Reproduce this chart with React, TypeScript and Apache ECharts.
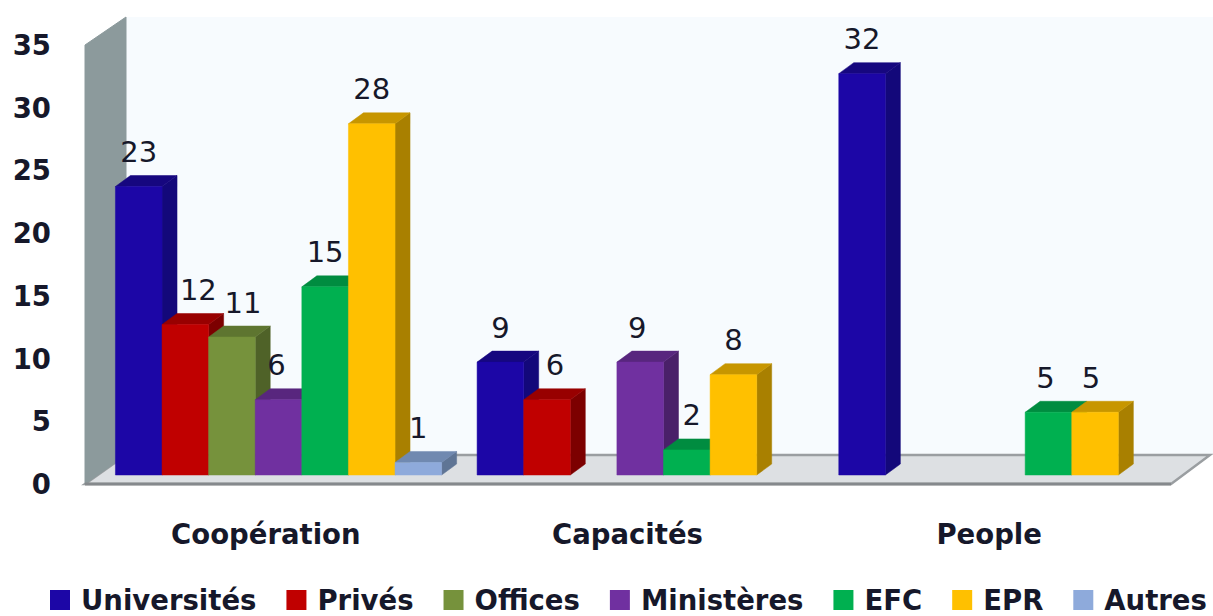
import React, { useEffect, useRef } from "react";
import * as echarts from "echarts";

const categories = ["Coopération", "Capacités", "People"];
const yTicks = { min: 0, max: 35, interval: 5 };

const universites = [23, 9, 32];
const prives = [12, 6, null];
const offices = [11, null, null];
const ministeres = [6, 9, null];
const efc = [15, 2, 5];
const epr = [28, 8, 5];
const autres = [1, null, null];

const seriesNames = ["Universités", "Privés", "Offices", "Ministères", "EFC", "EPR", "Autres"];
const seriesValues = [universites, prives, offices, ministeres, efc, epr, autres];
const frontColors = ["#1c06a6", "#c00000", "#76923c", "#7030a0", "#00b050", "#ffc000", "#8eaadb"];
const topColors = ["#16077f", "#980000", "#5e7530", "#58267e", "#008c40", "#c79600", "#7089b0"];
const sideColors = ["#13087a", "#7c0000", "#4f6228", "#4a2069", "#00733a", "#a98000", "#5f7595"];

const labelNudge: Record<string, number> = {
  "1|0": 13, "2|0": 11, "3|0": -2, "1|1": 8, "3|1": -3, "4|1": 5, "4|2": -3, "5|2": -4,
};

const FONT = "'DejaVu Sans', sans-serif";
const TEXT = "#16182a";
const BAR_RATIO = 46.6 / 361.67;
const PLANE_DX = 12.7;
const PLANE_DY = -9;
const DEPTH_DX = 15;
const DEPTH_DY = -11;

function makeRender(si: number) {
  return (params: any, api: any) => {
    const cat = api.value(0);
    const val = api.value(1);
    const top = api.coord([cat, val]);
    const base = api.coord([cat, 0]);
    const bw = api.size([1, 0])[0] * BAR_RATIO;
    const x0 = top[0] + PLANE_DX + (si - 3.5) * bw;
    const x1 = x0 + bw;
    const yT = top[1] + PLANE_DY;
    const yB = base[1] + PLANE_DY;
    const poly = (points: number[][], fill: string) => ({
      type: "polygon",
      shape: { points },
      style: { fill, stroke: fill, lineWidth: 0.5 },
    });
    return {
      type: "group",
      children: [
        poly([[x1, yT], [x1 + DEPTH_DX, yT + DEPTH_DY], [x1 + DEPTH_DX, yB + DEPTH_DY], [x1, yB]], sideColors[si]),
        poly([[x0, yT], [x0 + DEPTH_DX, yT + DEPTH_DY], [x1 + DEPTH_DX, yT + DEPTH_DY], [x1, yT]], topColors[si]),
        poly([[x0, yT], [x1, yT], [x1, yB], [x0, yB]], frontColors[si]),
        {
          type: "text",
          z2: 100,
          style: {
            text: String(val),
            x: (x0 + x1) / 2 + (labelNudge[si + "|" + cat] || 0),
            y: yT - 34.5,
            align: "center",
            verticalAlign: "middle",
            fontSize: 29,
            fontFamily: FONT,
            fill: TEXT,
          },
        },
      ],
    };
  };
}

export default function App() {
  const ref = useRef<HTMLDivElement>(null);
  useEffect(() => {
    const chart = echarts.init(ref.current!, undefined, { renderer: "svg" });
    chart.setOption({
      animation: false,
      backgroundColor: "#ffffff",
      grid: { left: 85, right: 43, top: 45, bottom: 132 },
      graphic: [
        { type: "rect", z: 0, shape: { x: 126, y: 17, width: 1087, height: 438 }, style: { fill: "#f7fbfe" } },
        { type: "polygon", z: 1, shape: { points: [[85, 484], [126, 455], [1210, 455], [1171, 484]] }, style: { fill: "#dde0e3", stroke: "#9a9ea1", lineWidth: 2.5 } },
        { type: "polygon", z: 1, shape: { points: [[85, 45], [126, 17], [126, 455], [85, 484]] }, style: { fill: "#8c9a9c", stroke: "#8c9a9c", lineWidth: 1 } },
        { type: "line", z: 1, shape: { x1: 85, y1: 484, x2: 1171, y2: 484 }, style: { stroke: "#85898c", lineWidth: 3 } },
      ],
      xAxis: {
        type: "category",
        data: categories,
        axisLine: { show: false },
        axisTick: { show: false },
        axisLabel: { margin: 36, fontSize: 27.5, fontWeight: "bold", fontFamily: FONT, color: TEXT },
      },
      yAxis: {
        type: "value",
        min: yTicks.min,
        max: yTicks.max,
        interval: yTicks.interval,
        axisLine: { show: false },
        axisTick: { show: false },
        splitLine: { show: false },
        axisLabel: { margin: 34, fontSize: 27.5, fontWeight: "bold", fontFamily: FONT, color: TEXT },
      },
      legend: {
        left: 50,
        top: 586,
        width: 1163,
        padding: 0,
        icon: "rect",
        itemWidth: 20,
        itemHeight: 20,
        itemGap: 30,
        selectedMode: false,
        data: seriesNames,
        textStyle: { fontSize: 27.5, fontWeight: "bold", fontFamily: FONT, color: TEXT, padding: [0, 0, 0, 6] },
      },
      series: seriesNames.map((name, si) => ({
        type: "custom",
        name,
        renderItem: makeRender(si),
        itemStyle: { color: frontColors[si] },
        encode: { x: 0, y: 1 },
        data: seriesValues[si]
          .map((v, c) => [c, v])
          .filter((d) => d[1] !== null),
      })),
    });
    return () => chart.dispose();
  }, []);
  return <div ref={ref} style={{ position: "fixed", left: 0, top: 0, width: 1213, height: 616 }} />;
}
